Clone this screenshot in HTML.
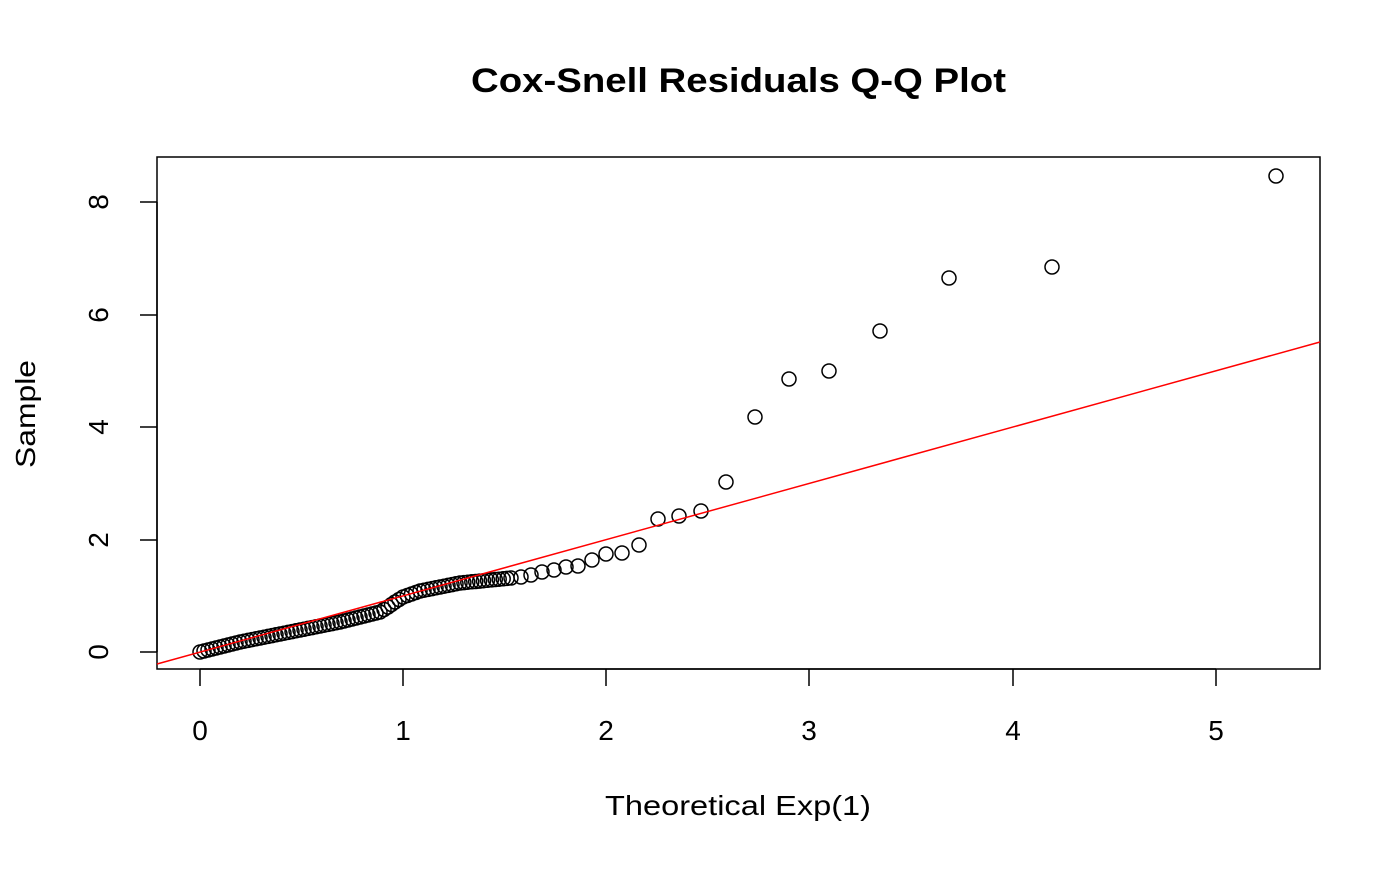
<!DOCTYPE html>
<html><head><meta charset="utf-8"><style>
body{margin:0;background:#fff}
svg text{font-family:"Liberation Sans",sans-serif}
</style></head><body>
<svg id="s" width="1400" height="866" xmlns="http://www.w3.org/2000/svg">
<rect width="1400" height="866" fill="#fff"/>
<text x="471" y="92" font-size="34" font-weight="bold" textLength="535" lengthAdjust="spacingAndGlyphs">Cox-Snell Residuals Q-Q Plot</text>
<rect x="157" y="157" width="1163" height="512" fill="none" stroke="#000" stroke-width="1.5"/>
<g stroke="#000" stroke-width="1.5">
<line x1="200" y1="669" x2="1216" y2="669"/>
<line x1="200" y1="669" x2="200" y2="686"/><line x1="403" y1="669" x2="403" y2="686"/><line x1="606" y1="669" x2="606" y2="686"/><line x1="809" y1="669" x2="809" y2="686"/><line x1="1013" y1="669" x2="1013" y2="686"/><line x1="1216" y1="669" x2="1216" y2="686"/>
<line x1="157" y1="652" x2="157" y2="202"/>
<line x1="140" y1="652" x2="157" y2="652"/><line x1="140" y1="540" x2="157" y2="540"/><line x1="140" y1="427" x2="157" y2="427"/><line x1="140" y1="315" x2="157" y2="315"/><line x1="140" y1="202" x2="157" y2="202"/>
</g>
<g font-size="28" text-anchor="middle">
<text x="200" y="740">0</text><text x="403" y="740">1</text><text x="606" y="740">2</text><text x="809" y="740">3</text><text x="1013" y="740">4</text><text x="1216" y="740">5</text>
<text transform="translate(108,652) rotate(-90)">0</text>
<text transform="translate(108,540) rotate(-90)">2</text>
<text transform="translate(108,427) rotate(-90)">4</text>
<text transform="translate(108,315) rotate(-90)">6</text>
<text transform="translate(108,202) rotate(-90)">8</text>
</g>
<text x="605" y="815" font-size="28" textLength="266" lengthAdjust="spacingAndGlyphs">Theoretical Exp(1)</text>
<text transform="translate(35,468) rotate(-90)" font-size="28" textLength="108" lengthAdjust="spacingAndGlyphs">Sample</text>
<g id="pts" fill="none" stroke="#000" stroke-width="1.5"></g>
<line x1="157" y1="664" x2="1320" y2="342" stroke="#f00" stroke-width="1.5"/>
</svg>
<script>
var g=document.getElementById('pts'),h='';
function c(x,y){h+='<circle cx="'+x.toFixed(1)+'" cy="'+y.toFixed(1)+'" r="7"/>';}
var k=[[200,652],[240,642],[300,630],[340,622],[380,612],[388,607],[395,602],[403,597],[420,591],[460,583],[511,578]];
for(var i=0;i<k.length-1;i++){var a=k[i],b=k[i+1],n=Math.max(1,Math.round((b[0]-a[0])/4));for(var j=0;j<n;j++){var t=j/n;c(a[0]+(b[0]-a[0])*t,a[1]+(b[1]-a[1])*t);}}
[[511,578],[521,577],[531,575],[542,572],[554,570],[566,567],[578,566],[592,560],[606,554],[622,553],[639,545],[658,519],[679,516],[701,511],[726,482],[755,417],[789,379],[829,371],[880,331],[949,278],[1052,267],[1276,176]].forEach(function(p){c(p[0],p[1]);});
g.innerHTML=h;
</script>
</body></html>
